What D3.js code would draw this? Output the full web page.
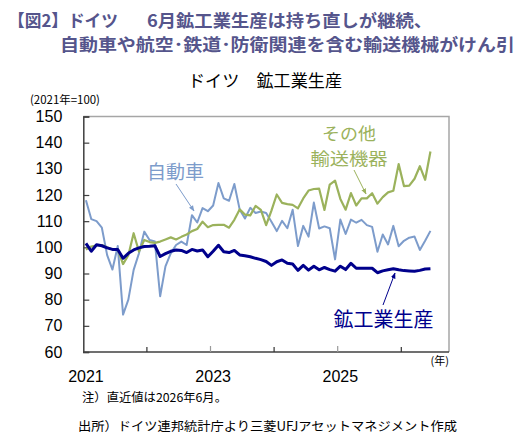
<!DOCTYPE html>
<html><head><meta charset="utf-8">
<script src="https://cdn.jsdelivr.net/npm/d3@7/dist/d3.min.js"></script>
<style>
html,body{margin:0;padding:0;background:#fff;}
svg{display:block;}
</style></head>
<body>
<svg id="c" width="519" height="442"></svg>
<script>
// ---- data ----
const years = [2021, 2022, 2023, 2024, 2025, 2026];
const yTicks = [60, 70, 80, 90, 100, 110, 120, 130, 140, 150];
const xLabelYears = ["2021", "2023", "2025"];
// Mining & manufacturing production (2021=100), Jan 2021 - Jun 2026
const mining = [101.5, 98.5, 101, 100.6, 99.8, 99.2, 99.2, 95.8, 97.7, 99, 99.8, 100.3,
  100.4, 100.6, 96.5, 97.6, 98.5, 99, 98.8, 98, 99.2, 98.6, 99, 96.4,
  98.5, 100.8, 98.3, 98, 98.8, 97.1, 96.8, 96.4, 95.8, 95.3, 94.6, 93.1,
  94.5, 95.2, 93.9, 93.6, 91.2, 93.1, 91.3, 92.8, 91.4, 92.3, 91.5, 90.9,
  92.8, 91.5, 93.9, 92, 92, 92, 92, 90.3, 91, 91.4, 91.8, 91.4,
  91.1, 91, 90.9, 91.2, 91.7, 91.8];
// Motor vehicles
const autos = [118, 110.8, 110, 107.5, 97, 91.5, 100.5, 74.3, 80, 91.4, 97.7, 106,
  102.8, 102.2, 81.3, 92.7, 97.7, 100.9, 102.2, 100.9, 112.3, 109.5, 115, 113.8,
  116, 124.6, 118.7, 117.8, 124.2, 114.5, 111, 115.1, 113.1, 113.7, 113.1, 109.8,
  106.2, 110.1, 107.3, 114.4, 100.5, 108.2, 104.1, 117.1, 107.2, 108, 107.3, 95.4,
  110.6, 105.1, 110.6, 109.4, 110.5, 108.5, 107.8, 98.3, 104.9, 101.1, 108.2, 100.4,
  102.5, 103.7, 104.1, 99, 102.5, 106.3];
// Other transport equipment
const otherTransport = [99.2, 100.3, 100.7, 100.9, 100, 99.2, 99.2, 93.6, 97, 105.4, 98.4, 102.8,
  102, 101.7, 102.2, 103, 103.8, 103, 104, 104.9, 106.2, 107, 109.8, 107.7,
  108.5, 108.6, 108.6, 107.5, 110.5, 114.5, 112.5, 112.2, 115.8, 114.3, 108.5, 114,
  120.2, 117, 116.5, 116.2, 114.9, 118.7, 121.7, 122.3, 122.4, 114.3, 124, 125.5,
  118.5, 114.4, 120.7, 116, 118.7, 118.7, 120.7, 116.7, 119.2, 121, 121.6, 131.8,
  123.4, 123.6, 126.2, 131, 125.8, 136.6];

// month categories Jan 2021 .. Sep 2026 (axis extends beyond data)
const months = [];
years.forEach(y => { for (let m = 1; m <= 12; m++) { if (y === 2026 && m > 9) break; months.push(y + "-" + m); } });

// ---- layout ----
const svg = d3.select("#c");
const L = 83.3, R = 449, T = 116.5, B = 352;
const x = d3.scaleBand().domain(months).range([L, R]).padding(0);
const y = d3.scaleLinear().domain([60, 150]).range([B, T]);
const cx = i => x(months[i]) + x.bandwidth() / 2;

const jp = "'Noto Sans CJK JP', 'Noto Sans', sans-serif";
const num = "'Liberation Sans', Arial, sans-serif";

// title
const titleColor = "#55558c";
svg.append("text").attr("x", 8).attr("y", 27).attr("font-family", jp).attr("font-weight", 700)
  .attr("font-size", 17).attr("fill", titleColor).attr("textLength", 110).attr("lengthAdjust", "spacingAndGlyphs")
  .text("【図2】ドイツ");
svg.append("text").attr("x", 147).attr("y", 27).attr("font-family", jp).attr("font-weight", 700)
  .attr("font-size", 17).attr("fill", titleColor).attr("textLength", 285).attr("lengthAdjust", "spacingAndGlyphs")
  .text("6月鉱工業生産は持ち直しが継続、");
svg.append("text").attr("x", 60).attr("y", 51).attr("font-family", jp).attr("font-weight", 700)
  .attr("font-size", 17).attr("fill", titleColor).attr("textLength", 455).attr("lengthAdjust", "spacingAndGlyphs")
  .text("自動車や航空･鉄道･防衛関連を含む輸送機械がけん引");

// chart subtitle
svg.append("text").attr("x", 188).attr("y", 87).attr("font-family", jp).attr("font-size", 17)
  .attr("fill", "#000").attr("textLength", 154).attr("lengthAdjust", "spacingAndGlyphs")
  .text("ドイツ　鉱工業生産");
svg.append("text").attr("x", 30).attr("y", 104).attr("font-family", jp).attr("font-size", 11.5)
  .attr("fill", "#000").attr("textLength", 70).attr("lengthAdjust", "spacingAndGlyphs")
  .text("(2021年=100)");

// frame (top/right grey)
svg.append("path").attr("d", `M${L},${T}H${R}V${B}`).attr("fill", "none").attr("stroke", "#a6a6a6").attr("stroke-width", 1.5);

// y axis
const yAxis = d3.axisLeft(y).tickValues(yTicks).tickSize(-6).tickPadding(21);
const gy = svg.append("g").attr("transform", `translate(${L},0)`).call(yAxis);
gy.select(".domain").attr("stroke", "#404040").attr("stroke-width", 1.5);
gy.selectAll(".tick line").attr("stroke", "#404040").attr("stroke-width", 1.2);
gy.selectAll(".tick text").attr("font-family", num).attr("font-size", 16).attr("fill", "#000");

// x axis: ticks at year boundaries, labels at band centre of January
const yearStarts = months.filter(m => m.endsWith("-1") && m !== "2021-1");
const gx = svg.append("g").attr("transform", `translate(0,${B})`);
gx.append("line").attr("x1", L).attr("x2", R).attr("stroke", "#404040").attr("stroke-width", 1.5);
gx.selectAll("line.tk").data(yearStarts).join("line").attr("class", "tk")
  .attr("x1", d => x(d)).attr("x2", d => x(d)).attr("y1", 0)
  .attr("y2", d => (d.startsWith("2023") || d.startsWith("2025")) ? -6 : -5)
  .attr("stroke", d => (d.startsWith("2023") || d.startsWith("2025")) ? "#999" : "#333").attr("stroke-width", 1.2);
gx.selectAll("text.yl").data(xLabelYears).join("text").attr("class", "yl")
  .attr("x", d => x(d + "-1") + x.bandwidth() / 2).attr("y", 30)
  .attr("text-anchor", "middle").attr("font-family", num).attr("font-size", 16).attr("fill", "#000")
  .text(d => d);
svg.append("text").attr("x", 449).attr("y", 365).attr("text-anchor", "end").attr("font-family", jp)
  .attr("font-size", 11).attr("fill", "#000").text("(年)");

// lines
const line = d3.line().x((d, i) => cx(i)).y(d => y(d));
svg.append("path").datum(autos).attr("d", line).attr("fill", "none")
  .attr("stroke", "#7d9ccb").attr("stroke-width", 2).attr("stroke-linejoin", "round");
svg.append("path").datum(otherTransport).attr("d", line).attr("fill", "none")
  .attr("stroke", "#9bb25c").attr("stroke-width", 2.2).attr("stroke-linejoin", "round");
svg.append("path").datum(mining).attr("d", line).attr("fill", "none")
  .attr("stroke", "#00008c").attr("stroke-width", 3).attr("stroke-linejoin", "round");

// arrow markers
function marker(id, color) {
  svg.append("defs").append("marker").attr("id", id).attr("viewBox", "0 0 10 10").attr("refX", 9).attr("refY", 5)
    .attr("markerWidth", 6).attr("markerHeight", 6).attr("orient", "auto")
    .append("path").attr("d", "M0,1L10,5L0,9Z").attr("fill", color);
}
marker("aA", "#7d9ccb"); marker("aG", "#9bb25c"); marker("aN", "#00008c");

// annotations
svg.append("text").attr("x", 175.5).attr("y", 179).attr("text-anchor", "middle").attr("font-family", jp)
  .attr("font-size", 19).attr("fill", "#7d9ccb").text("自動車");
svg.append("line").attr("x1", 176).attr("y1", 184).attr("x2", 194).attr("y2", 211)
  .attr("stroke", "#7d9ccb").attr("stroke-width", 1).attr("marker-end", "url(#aA)");

svg.append("text").attr("x", 349).attr("y", 140).attr("text-anchor", "middle").attr("font-family", jp)
  .attr("font-size", 17).attr("fill", "#9bb25c").attr("textLength", 54).attr("lengthAdjust", "spacingAndGlyphs")
  .text("その他");
svg.append("text").attr("x", 349).attr("y", 165).attr("text-anchor", "middle").attr("font-family", jp)
  .attr("font-size", 17).attr("fill", "#9bb25c").attr("textLength", 77).attr("lengthAdjust", "spacingAndGlyphs")
  .text("輸送機器");
svg.append("line").attr("x1", 354).attr("y1", 170).attr("x2", 366).attr("y2", 194)
  .attr("stroke", "#9bb25c").attr("stroke-width", 1).attr("marker-end", "url(#aG)");

svg.append("text").attr("x", 383.5).attr("y", 327).attr("text-anchor", "middle").attr("font-family", jp)
  .attr("font-size", 20).attr("fill", "#00008c").text("鉱工業生産");
svg.append("line").attr("x1", 383).attr("y1", 305).attr("x2", 395).attr("y2", 273)
  .attr("stroke", "#00008c").attr("stroke-width", 1).attr("marker-end", "url(#aN)");

// notes
svg.append("text").attr("x", 82).attr("y", 402).attr("font-family", jp).attr("font-size", 12)
  .attr("fill", "#000").attr("textLength", 145).attr("lengthAdjust", "spacingAndGlyphs")
  .text("注）直近値は2026年6月。");
svg.append("text").attr("x", 78).attr("y", 431).attr("font-family", jp).attr("font-size", 12.5)
  .attr("fill", "#000").attr("textLength", 379).attr("lengthAdjust", "spacingAndGlyphs")
  .text("出所）ドイツ連邦統計庁より三菱UFJアセットマネジメント作成");
</script>
</body></html>
